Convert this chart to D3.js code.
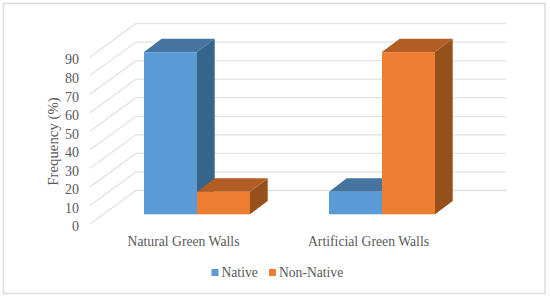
<!DOCTYPE html>
<html>
<head>
<meta charset="utf-8">
<script src="https://cdn.jsdelivr.net/npm/d3@7"></script>
<style>
  html, body { margin: 0; padding: 0; background: #fff; }
  svg { display: block; }
  text { font-family: "Liberation Serif", serif; fill: #595959; }
</style>
</head>
<body>
<div id="chart"></div>
<script>
const categories = ['Natural Green Walls', 'Artificial Green Walls'];
const seriesNames = ['Native', 'Non-Native'];
const nativeValues = [87.4, 12.2];
const nonNativeValues = [12.2, 87.4];
const yTicks = [0, 10, 20, 30, 40, 50, 60, 70, 80, 90];

const colorpel = {
  'Native': { front: '#5b9bd5', top: '#44749f', side: '#36648b' },
  'Non-Native': { front: '#ed7d31', top: '#b25d24', side: '#95501b' }
};

const width = 550, height = 297;

// wall depth of the fake 3d box, and where the bars sit inside it
const depth = { dx: 46, dy: -33.5 };
const barDepth = { dx: 17.7, dy: -13.3 };
const barShift = { dx: 13.3, dy: -9.7 };

const y = d3.scaleLinear().domain([0, 90]).range([224, 57]);
const x0 = d3.scaleBand().domain(categories).range([90, 460]);
const x1 = d3.scaleBand().domain(seriesNames).range([40.7, 146.7]);

const svg = d3.select('#chart').append('svg')
  .attr('width', width)
  .attr('height', height);

svg.append('rect')
  .attr('x', 3.5).attr('y', 3.5)
  .attr('width', 541.5).attr('height', 290)
  .attr('fill', '#fff')
  .attr('stroke', '#dcdcdc')
  .attr('stroke-width', 1.5);

// gridlines: back wall + diagonal on the side wall
const grid = svg.append('g').attr('class', 'grid')
  .attr('fill', 'none')
  .attr('stroke', '#e2e2e2')
  .attr('stroke-width', 1.3);

grid.selectAll('path').data(yTicks).enter().append('path')
  .attr('d', d => `M90,${y(d)}L${90 + depth.dx},${y(d) + depth.dy}L506.5,${y(d) + depth.dy}`);

// y axis labels
const yAxis = svg.append('g')
  .attr('transform', 'translate(83,2.5)')
  .call(d3.axisLeft(y).tickValues(yTicks).tickSize(0).tickPadding(4));
yAxis.select('.domain').remove();
yAxis.selectAll('text')
  .style('font-family', '"Liberation Serif", serif')
  .style('font-size', '14px')
  .style('fill', '#595959');

svg.append('text')
  .attr('transform', 'translate(58,141.5) rotate(-90)')
  .attr('text-anchor', 'middle')
  .style('font-size', '14.8px')
  .text('Frequency (%)');

// bars
const rows = [];
categories.forEach((c, i) => {
  rows.push({ cat: c, name: seriesNames[0], value: nativeValues[i] });
  rows.push({ cat: c, name: seriesNames[1], value: nonNativeValues[i] });
});

const bars = svg.append('g').attr('class', 'bars')
  .selectAll('g').data(rows).enter().append('g');

const bx = d => x0(d.cat) + x1(d.name) + barShift.dx;
const bt = d => y(d.value) + barShift.dy;
const bb = () => y(0) + barShift.dy;
const bw = x1.bandwidth();

bars.append('path')
  .attr('fill', d => colorpel[d.name].side)
  .attr('d', d => `M${bx(d) + bw},${bt(d)}l${barDepth.dx},${barDepth.dy}L${bx(d) + bw + barDepth.dx},${bb() + barDepth.dy}L${bx(d) + bw},${bb()}Z`);

bars.append('path')
  .attr('fill', d => colorpel[d.name].top)
  .attr('d', d => `M${bx(d)},${bt(d)}l${barDepth.dx},${barDepth.dy}h${bw}l${-barDepth.dx},${-barDepth.dy}Z`);

bars.append('rect')
  .attr('fill', d => colorpel[d.name].front)
  .attr('x', bx)
  .attr('y', bt)
  .attr('width', bw)
  .attr('height', d => bb() - bt(d));

// category labels
svg.append('g').selectAll('text').data(categories).enter().append('text')
  .attr('x', d => x0(d) + x0.bandwidth() / 2 + 1)
  .attr('y', 245.5)
  .attr('text-anchor', 'middle')
  .style('font-size', '13.7px')
  .text(d => d);

// legend
const legendX = d3.scaleOrdinal().domain(seriesNames).range([211.5, 269]);
const legend = svg.append('g').selectAll('g').data(seriesNames).enter().append('g')
  .attr('transform', d => `translate(${legendX(d)},269)`);
legend.append('rect')
  .attr('width', 7).attr('height', 7)
  .attr('fill', d => colorpel[d].front);
legend.append('text')
  .attr('x', 10)
  .attr('y', 8)
  .style('font-size', '13.6px')
  .text(d => d);
</script>
</body>
</html>
